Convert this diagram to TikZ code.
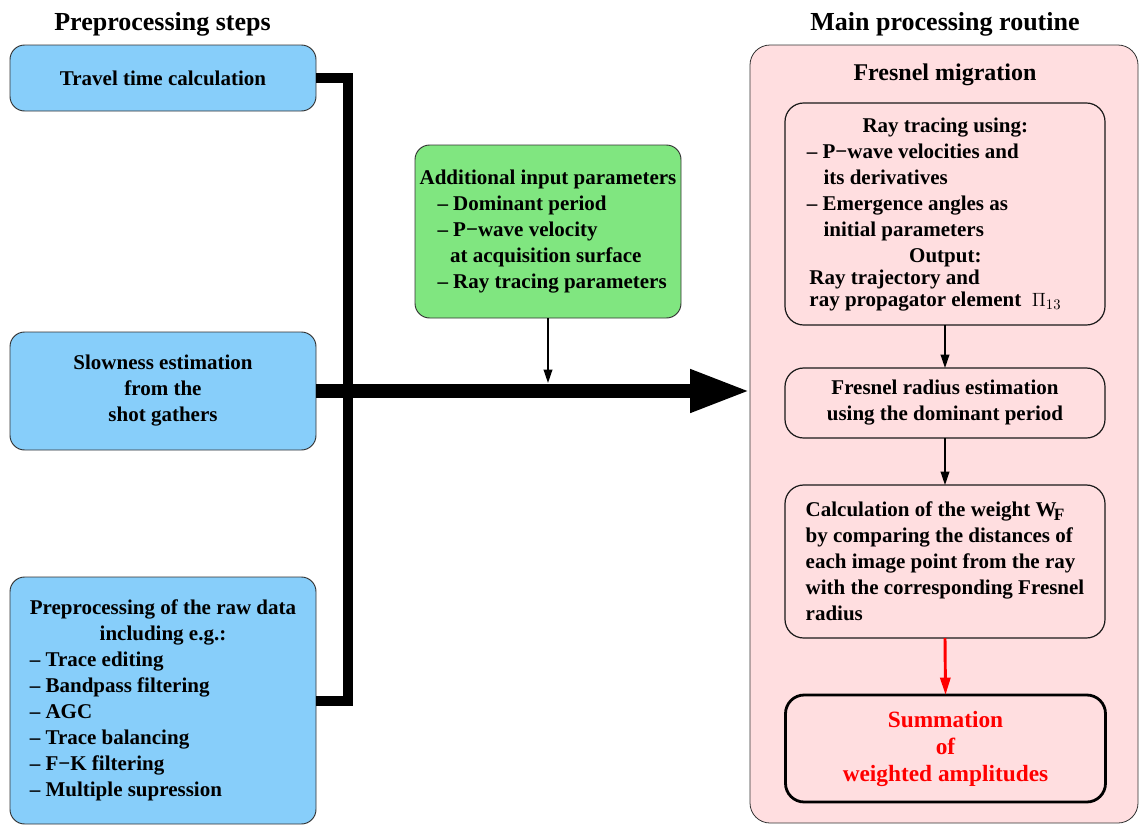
\documentclass[tikz,border=0pt]{standalone}
\usepackage{fontspec}
\setmainfont{Liberation Serif}
\usetikzlibrary{arrows.meta}
\definecolor{boxblue}{RGB}{135,206,250}
\definecolor{boxgreen}{RGB}{128,230,128}
\definecolor{boxpink}{RGB}{255,222,224}
\definecolor{edgegray}{RGB}{50,50,50}
\tikzset{
  every node/.style={inner sep=0pt, outer sep=0pt},
  bluebox/.style={draw=edgegray, line width=0.7pt, fill=boxblue, rounded corners=11pt, minimum width=229.5pt},
  greenbox/.style={draw=edgegray, line width=0.7pt, fill=boxgreen, rounded corners=11pt, minimum width=199.5pt, minimum height=129.75pt},
  pinkbox/.style={draw=edgegray, line width=0.6pt, fill=boxpink, rounded corners=15pt, minimum width=291pt, minimum height=583.5pt},
  innerbox/.style={draw=black!90, line width=0.9pt, rounded corners=14pt, minimum width=240pt},
  redbox/.style={draw=black, line width=2.1pt, rounded corners=14pt, minimum width=240pt, minimum height=80.25pt, text=red, font=\bfseries\fontsize{17.5}{20.25}\selectfont},
  busline/.style={line width=7.5pt, line join=miter},
  mainarrow/.style={line width=10pt, -{Triangle[length=45pt,width=30pt]}},
  thinarrow/.style={line width=1.1pt, -{Triangle[length=10pt,width=6.5pt]}},
  redarrow/.style={draw=red, line width=2.2pt, -{Triangle[length=13pt,width=7.5pt]}},
  titletext/.style={font=\bfseries\fontsize{19.5}{23}\selectfont},
  subtitletext/.style={font=\bfseries\fontsize{18}{22}\selectfont}
}
\begin{document}
\begin{tikzpicture}[x=0.75pt,y=-0.75pt, font=\bfseries\fontsize{15.75}{19.5}\selectfont]
\useasboundingbox (0,0) rectangle (1140,825);

% titles
\node[titletext] (t1) at (162.5,24) {Preprocessing steps};
\node[titletext] (t2) at (945,24) {Main processing routine};

% main processing routine box
\node[pinkbox] (pink) at (944,434) {};
\node[subtitletext] (fm) at (945,75) {Fresnel migration};

% left boxes
\node[bluebox, minimum height=49.5pt] (b1) at (163,78) {Travel time calculation};
\node[bluebox, minimum height=88.5pt, align=center] (b2) at (163,391) {Slowness estimation\\from the\\shot gathers};
\node[bluebox, minimum height=185.25pt] (b3) at (163,700.5) {%
\begin{tabular}{@{}l@{}}
\multicolumn{1}{@{}c@{}}{Preprocessing of the raw data}\\
\multicolumn{1}{@{}c@{}}{including e.g.:}\\
– Trace editing\\
– Bandpass filtering\\
– AGC\\
– Trace balancing\\
– F−K filtering\\
– Multiple supression
\end{tabular}};

% green box
\node[greenbox] (g) at (548,231.5) {%
\raisebox{-3pt}{\begin{tabular}{@{}l@{}}
Additional input parameters\\
\hspace*{0.85em}– Dominant period\\
\hspace*{0.85em}– P−wave velocity\\
\hspace*{1.45em}at acquisition surface\\
\hspace*{0.85em}– Ray tracing parameters
\end{tabular}}};

% inner boxes
\node[innerbox, minimum height=166.5pt] (i1) at (945,214) {%
\begin{tabular}{@{}l@{\hspace{16.5pt}}}
\multicolumn{1}{@{}c@{\hspace{16.5pt}}}{\hspace*{17pt}Ray tracing using:}\\
– P−wave velocities and\\
\hspace*{0.8em}its derivatives\\
– Emergence angles as\\
\hspace*{0.8em}initial parameters\\
\multicolumn{1}{@{}c@{\hspace{16.5pt}}}{\hspace*{17pt}Output:}\\[-3pt]
\hspace*{2pt}Ray trajectory and\\[-3pt]
\hspace*{2pt}ray propagator element\enspace$\Pi_{13}$
\end{tabular}};
\node[innerbox, minimum height=52.5pt, align=center] (i2) at (945,403) {Fresnel radius estimation\\using the dominant period};
\node[innerbox, minimum height=114.75pt, align=left] (i3) at (945,561.5) {Calculation of the weight W\kern-0.12em\raisebox{-0.4ex}{\fontsize{13}{15}\selectfont F}\\by comparing the distances of\\each image point from the ray\\with the corresponding Fresnel\\radius};
\node[redbox, align=center] (i4) at (945.5,748.5) {Summation\\of\\weighted amplitudes};

% connectors
\coordinate (busx) at (348,0);
\coordinate (gtip) at (548,383);
\draw[busline] (b1.east) -- (b1.east -| busx) -- (b3.east -| busx) -- (b3.east);
\draw[mainarrow] (b2.east) -- (b2.east -| pink.west);
\draw[thinarrow] (g.south) -- (gtip);
\draw[thinarrow] (i1.south) -- (i2.north);
\draw[thinarrow] (i2.south) -- (i3.north);
\draw[redarrow] (i3.south) -- (i4.north);
\end{tikzpicture}
\end{document}
